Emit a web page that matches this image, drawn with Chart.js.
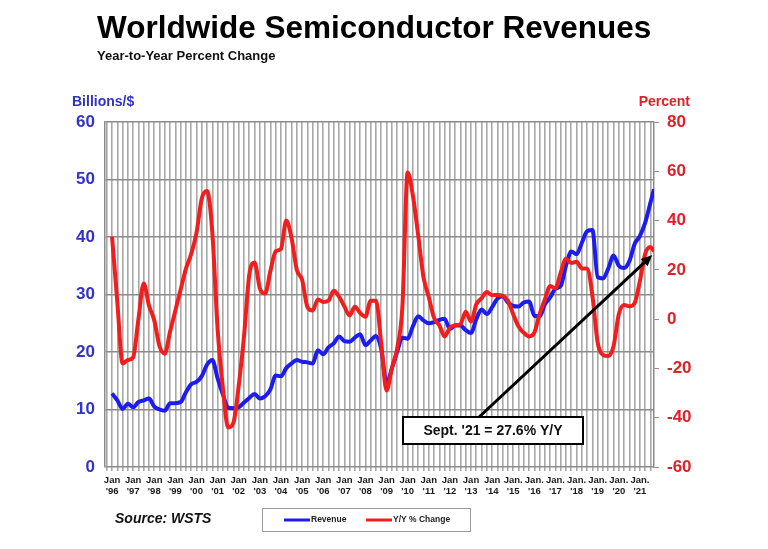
<!DOCTYPE html>
<html>
<head>
<meta charset="utf-8">
<script src="https://cdn.jsdelivr.net/npm/chart.js@4.4.1/dist/chart.umd.min.js"></script>
<style>
  body { margin: 0; background: #fff; }
  #wrap { position: relative; width: 768px; height: 549px; overflow: hidden; }
</style>
</head>
<body>
<div id="wrap">
  <canvas id="canvas" width="768" height="549"></canvas>
</div>
<script>
const FONT = '"Liberation Sans", Arial, sans-serif';

// quarterly readings (Jan/Apr/Jul/Oct) from Jan '96, last one is Sept '21
const revenue = [
  12.8, 11.6, 10.1, 11.0,   // 1996
  10.4, 11.3, 11.6, 11.9,   // 1997
  10.5, 10.0, 9.8, 11.1,    // 1998
  11.1, 11.3, 13.0, 14.4,   // 1999
  14.8, 15.8, 17.8, 18.6,   // 2000
  15.4, 12.6, 10.3, 10.2,   // 2001
  10.4, 11.2, 12.0, 12.7,   // 2002
  11.9, 12.3, 13.5, 15.9,   // 2003
  15.8, 17.2, 18.0, 18.6,   // 2004
  18.3, 18.2, 18.0, 20.3,   // 2005
  19.6, 20.8, 21.5, 22.7,   // 2006
  21.9, 21.8, 22.5, 23.1,   // 2007
  21.2, 22.0, 22.8, 20.5,   // 2008
  14.5, 17.1, 20.0, 22.5,   // 2009
  22.3, 24.5, 26.2, 25.5,   // 2010
  25.0, 25.2, 25.6, 25.8,   // 2011
  24.0, 24.6, 24.6, 23.8,   // 2012
  23.3, 25.7, 27.4, 26.6,   // 2013
  27.8, 29.3, 29.7, 28.6,   // 2014
  28.0, 27.9, 28.6, 28.8,   // 2015
  26.3, 26.2, 28.3, 29.5,   // 2016
  31.0, 31.5, 35.0, 37.5,   // 2017
  37.0, 39.0, 41.0, 41.2,   // 2018
  33.0, 32.8, 34.5, 36.8,   // 2019
  35.0, 34.6, 35.8, 38.8,   // 2020
  40.2, 42.5, 46.0, 48.3    // 2021 (Jan, Apr, Jul, Sep)
];

const yoyChange = [
  33.5, 7, -18, -16.6,      // 1996
  -15.5, 0, 14.5, 5.5,      // 1997
  -0.5, -11, -14, -5,       // 1998
  3.5, 12, 20.5, 26.5,      // 1999
  35, 49, 52, 35,           // 2000
  -4, -28, -44, -42,        // 2001
  -27, -7, 18, 23,          // 2002
  12.5, 10.4, 19.5, 27.5,   // 2003
  28.5, 40, 33, 20,         // 2004
  16, 5, 3.5, 8,            // 2005
  7.0, 7.5, 11.5, 9.1,      // 2006
  5.2, 1.5, 5.0, 2.5,       // 2007
  1.0, 7.5, 7.5, -10,       // 2008
  -29, -20, -12, 5,         // 2009
  59.5, 50, 34, 17,         // 2010
  9, 0.5, -2.5, -7,         // 2011
  -3.5, -2.5, -2, 3,        // 2012
  -1, 6, 8.5, 11,           // 2013
  9.7, 9.8, 9.5, 7.5,       // 2014
  2, -3, -5.5, -7,          // 2015
  -5.5, 2, 8, 13.5,         // 2016
  12.5, 19, 24.5, 22.8,     // 2017
  23.3, 20.6, 20.5, 9.5,    // 2018
  -9.5, -14.5, -15, -11,    // 2019
  2, 5.7, 5.2, 6.5,         // 2020
  15.5, 26.5, 29.3, 27.6    // 2021
];

const tickMonth = ["Jan","Jan","Jan","Jan","Jan","Jan","Jan","Jan","Jan","Jan","Jan","Jan","Jan",
  "Jan","Jan","Jan","Jan","Jan","Jan","Jan.","Jan.","Jan.","Jan.","Jan.","Jan.","Jan."];
const tickYear = ["'96","'97","'98","'99","'00","'01","'02","'03","'04","'05","'06","'07","'08",
  "'09","'10","'11","'12","'13","'14","'15","'16","'17","'18","'19","'20","'21"];

// months since Jan '96 for each reading
const monthIdx = revenue.map((v, i) => (i < revenue.length - 1 ? i * 3 : 308));

const noteText = "Sept. '21 = 27.6% Y/Y";

const canvas = document.getElementById("canvas");
const ctx = canvas.getContext("2d");

const decor = {
  id: "decor",
  afterDatasetsDraw(chart) {
    const c = chart.ctx;
    const { x, y2 } = chart.scales;
    c.save();
    // arrow from the note box to the last Y/Y point
    const sx = x.getPixelForValue(208), sy = 418;
    const tx = x.getPixelForValue(307), ty = y2.getPixelForValue(26);
    const ang = Math.atan2(ty - sy, tx - sx);
    c.strokeStyle = "#000";
    c.lineWidth = 3;
    c.beginPath();
    c.moveTo(sx, sy);
    c.lineTo(tx - 8 * Math.cos(ang), ty - 8 * Math.sin(ang));
    c.stroke();
    c.fillStyle = "#000";
    c.beginPath();
    c.moveTo(tx, ty);
    c.lineTo(tx - 11 * Math.cos(ang) + 5 * Math.sin(ang), ty - 11 * Math.sin(ang) - 5 * Math.cos(ang));
    c.lineTo(tx - 11 * Math.cos(ang) - 5 * Math.sin(ang), ty - 11 * Math.sin(ang) + 5 * Math.cos(ang));
    c.closePath();
    c.fill();
    // note box
    c.fillStyle = "#fff";
    c.fillRect(403, 417, 180, 27);
    c.lineWidth = 2;
    c.strokeRect(403, 417, 180, 27);
    c.fillStyle = "#111";
    c.font = "bold 14px " + FONT;
    c.textAlign = "center";
    c.textBaseline = "middle";
    c.fillText(noteText, 493, 431);
    c.restore();
  },
  afterDraw(chart) {
    const c = chart.ctx;
    c.save();
    c.textBaseline = "alphabetic";
    c.textAlign = "left";
    c.fillStyle = "#000";
    c.font = "bold 31.5px " + FONT;
    c.fillText("Worldwide Semiconductor Revenues", 97, 38);
    c.font = "bold 13px " + FONT;
    c.fillStyle = "#111";
    c.fillText("Year-to-Year Percent Change", 97, 60);
    c.font = "bold 14px " + FONT;
    c.fillStyle = "#3232c8";
    c.fillText("Billions/$", 72, 106);
    c.fillStyle = "#e0202a";
    c.textAlign = "right";
    c.fillText("Percent", 690, 106);
    // source
    c.textAlign = "left";
    c.fillStyle = "#111";
    c.font = "italic bold 14px " + FONT;
    c.fillText("Source: WSTS", 115, 523);
    // legend box
    c.strokeStyle = "#9a9a9a";
    c.lineWidth = 1;
    c.strokeRect(262.5, 508.5, 208, 23);
    c.lineWidth = 3;
    c.strokeStyle = "#1c1cf0";
    c.beginPath(); c.moveTo(284, 520); c.lineTo(310, 520); c.stroke();
    c.strokeStyle = "#f21d1d";
    c.beginPath(); c.moveTo(366, 520); c.lineTo(392, 520); c.stroke();
    c.fillStyle = "#222";
    c.font = "bold 8.5px " + FONT;
    c.textBaseline = "middle";
    c.fillText("Revenue", 311, 520);
    c.fillText("Y/Y % Change", 393, 520);
    c.restore();
  }
};

new Chart(ctx, {
  type: "line",
  data: {
    datasets: [
      {
        label: "Y/Y % Change",
        data: yoyChange.map((v, i) => ({ x: monthIdx[i], y: v })),
        borderColor: "#f21d1d",
        yAxisID: "y2",
        order: 0
      },
      {
        label: "Revenue",
        data: revenue.map((v, i) => ({ x: monthIdx[i], y: v })),
        borderColor: "#1c1cf0",
        yAxisID: "y",
        order: 1
      }
    ]
  },
  options: {
    responsive: false,
    animation: false,
    layout: { padding: { top: 122, left: 0, right: 0, bottom: 0 } },
    plugins: { legend: { display: false }, tooltip: { enabled: false } },
    elements: {
      point: { radius: 0 },
      line: { borderWidth: 4, cubicInterpolationMode: "monotone" }
    },
    scales: {
      x: {
        type: "linear",
        min: -4,
        max: 308,
        afterBuildTicks: (axis) => {
          axis.ticks = [];
          for (let m = -3; m <= 308; m += 3) axis.ticks.push({ value: m });
        },
        afterFit: (s) => { s.height = 82; },
        grid: { color: "#a8a8a8", lineWidth: 1.6, tickLength: 4 },
        border: { display: false },
        ticks: {
          autoSkip: false,
          maxRotation: 0,
          padding: 3,
          color: "#1a1a1a",
          font: { family: FONT, size: 9.5, weight: "bold", lineHeight: 1.25 },
          callback: (v) => {
            if (v >= 0 && v <= 300 && v % 12 === 0) return [tickMonth[v / 12], tickYear[v / 12]];
            return "";
          }
        }
      },
      y: {
        position: "left",
        min: 0,
        max: 60,
        afterFit: (s) => { s.width = 105; },
        grid: { color: "#8c8c8c", lineWidth: 1.5, drawTicks: false },
        border: { color: "#8c8c8c", width: 1.5 },
        ticks: {
          stepSize: 10,
          padding: 10,
          color: "#3232c8",
          font: { family: FONT, size: 17, weight: "bold" }
        }
      },
      y2: {
        position: "right",
        min: -60,
        max: 80,
        afterFit: (s) => { s.width = 114; },
        grid: { drawOnChartArea: false, color: "#8c8c8c", tickLength: 5 },
        border: { color: "#8c8c8c", width: 1.5 },
        ticks: {
          stepSize: 20,
          padding: 8,
          color: "#e0202a",
          font: { family: FONT, size: 17, weight: "bold" }
        }
      }
    }
  },
  plugins: [decor]
});
</script>
</body>
</html>
